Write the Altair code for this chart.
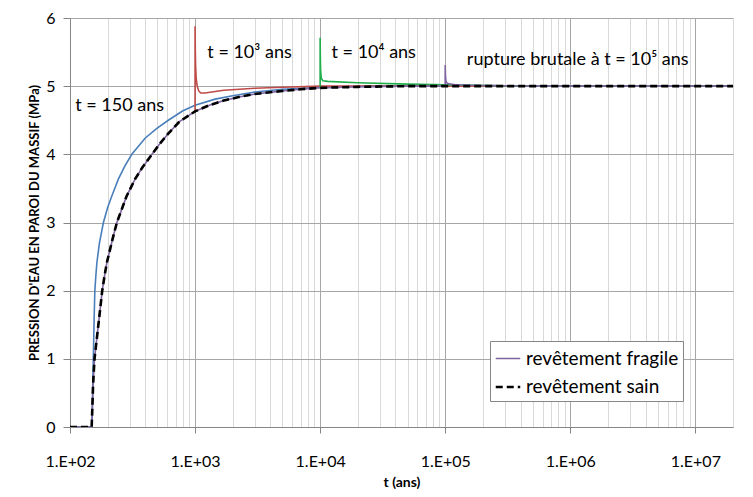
import altair as alt
import pandas as pd

# ---------------- data ----------------
# revêtement sain (black dashed)
sain_t = [100, 149, 151, 153, 157, 162, 167, 174, 181, 189, 197, 210, 222, 237, 260, 284, 310, 332, 380,
          452, 520, 607, 750, 1000, 1300, 1700, 2300, 3000, 5000, 7000, 10000, 20000, 50000, 100000, 1e6, 2e7]
sain_p = [0, 0, 0.3, 0.62, 1.0, 1.22, 1.43, 1.72, 2.0, 2.22, 2.41, 2.62, 2.8, 3.0, 3.2, 3.39, 3.53, 3.64, 3.81,
          4.0, 4.15, 4.3, 4.48, 4.63, 4.72, 4.79, 4.845, 4.885, 4.93, 4.955, 4.975, 4.99, 5.0, 5.0, 5.0, 5.0]

# rupture at t = 150 ans (blue)
blue_t = [100, 150, 152, 154, 156, 158, 161, 164, 172, 185, 200, 216, 244, 275, 312, 400, 495, 611, 800,
          1000, 1445, 2000, 3000, 5000, 10000, 30000, 100000, 2e7]
blue_p = [0, 0, 0.6, 1.1, 1.6, 2.0, 2.22, 2.41, 2.7, 3.0, 3.22, 3.39, 3.64, 3.83, 4.0, 4.24, 4.38, 4.5, 4.64,
          4.72, 4.81, 4.86, 4.915, 4.955, 4.985, 5.0, 5.0, 5.0]

# rupture at t = 10^3 ans (red)
red_t = [1000, 1000, 1004, 1010, 1020, 1040, 1070, 1110, 1200, 1700, 3000, 5000, 10000, 100000, 2e7]
red_p = [4.63, 5.88, 5.55, 5.3, 5.12, 5.0, 4.93, 4.9, 4.9, 4.94, 4.97, 4.985, 5.0, 5.0, 5.0]

# rupture at t = 10^4 ans (green)
green_t = [10000, 10000, 10030, 10080, 10200, 10500, 11500, 20000, 50000, 100000, 300000, 1e6, 2e7]
green_p = [4.975, 5.71, 5.45, 5.25, 5.12, 5.08, 5.07, 5.05, 5.03, 5.02, 5.005, 5.0, 5.0]

# revêtement fragile : rupture brutale at t = 10^5 ans (purple)
frag_t = [t for t in sain_t if t <= 100000] + [100000, 100500, 101500, 104000, 120000, 200000, 500000, 2e7]
frag_p = [p for t, p in zip(sain_t, sain_p) if t <= 100000] + [5.31, 5.15, 5.07, 5.04, 5.02, 5.01, 5.0, 5.0]

legend_names = ["revêtement fragile", "revêtement sain"]

notes_text = ["t = 150 ans", "t = 10³ ans", "t = 10⁴ ans", "rupture brutale à t = 10⁵ ans"]
notes_t = [110, 1253, 12330, 149000]
notes_p = [4.71, 5.48, 5.48, 5.38]

y_ticks = [0, 1, 2, 3, 4, 5, 6]
x_decades = [1e2, 1e3, 1e4, 1e5, 1e6, 1e7]
x_grid = [m * d for d in x_decades for m in range(1, 10) if m * d <= 2e7]

FONT = "Lato"


def frame(ts, ps, name):
    return pd.DataFrame({"t": ts, "p": ps, "serie": name, "i": list(range(len(ts)))})


MAJOR = "abs(log(datum.value)/LN10 - round(log(datum.value)/LN10)) < 0.001"

x_enc = alt.X(
    "t:Q",
    title="t (ans)",
    scale=alt.Scale(type="log", domain=[100, 2e7], nice=False),
    axis=alt.Axis(
        values=x_grid,
        labelExpr="(" + MAJOR + ") ? '1.E+0' + round(log(datum.value)/LN10) : ''",
        gridColor={"condition": {"test": MAJOR, "value": "#A6A6A6"}, "value": "#D9D9D9"},
        tickColor={"condition": {"test": MAJOR, "value": "#868686"}, "value": "transparent"},
        tickSize=6,
        labelOverlap=False,
        labelFlush=False,
        labelBound=False,
        labelPadding=20,
        labelFont=FONT,
        labelFontSize=16,
        labelColor="black",
        titleFont=FONT,
        titleFontSize=14,
        titleFontWeight="bold",
        titleColor="black",
        titlePadding=6,
        domainColor="#868686",
    ),
)

y_enc = alt.Y(
    "p:Q",
    title="PRESSION D'EAU EN PAROI DU MASSIF (MPa)",
    scale=alt.Scale(domain=[0, 6], nice=False),
    axis=alt.Axis(
        values=y_ticks,
        format="d",
        gridColor="#A6A6A6",
        tickColor="#868686",
        tickSize=7,
        labelPadding=8,
        labelFont=FONT,
        labelFontSize=16,
        labelColor="black",
        titleFont=FONT,
        titleFontSize=13,
        titleFontWeight="bold",
        titleColor="black",
        titlePadding=4,
        domainColor="#868686",
    ),
)


def single(df, color, width=1.6):
    return alt.Chart(df).mark_line(color=color, strokeWidth=width, clip=True).encode(
        x=x_enc, y=y_enc, order=alt.Order("i:Q")
    )


blue = single(frame(blue_t, blue_p, "150"), "#4A7EBB")
red = single(frame(red_t, red_p, "1e3"), "#BE4B48")
green = single(frame(green_t, green_p, "1e4"), "#1FAE4B")

leg_df = pd.concat([frame(frag_t, frag_p, legend_names[0]), frame(sain_t, sain_p, legend_names[1])])
leg_props = dict(
    title=None,
    orient="none",
    legendX=420,
    legendY=323,
    direction="vertical",
    fillColor="white",
    strokeColor="#868686",
    padding=4,
    labelFont=FONT,
    labelFontSize=19,
    labelColor="black",
    labelLimit=400,
    labelOffset=4,
    symbolType="stroke",
    symbolSize=600,
    symbolStrokeWidth=2.2,
    rowPadding=4,
)
legend_lines = alt.Chart(leg_df).mark_line(clip=True).encode(
    x=x_enc,
    y=y_enc,
    order=alt.Order("i:Q"),
    color=alt.Color("serie:N", scale=alt.Scale(domain=legend_names, range=["#7E63A0", "#000000"]),
                    legend=alt.Legend(**leg_props)),
    strokeDash=alt.StrokeDash("serie:N", scale=alt.Scale(domain=legend_names, range=[[1, 0], [7, 4]]),
                              legend=alt.Legend(**leg_props)),
    strokeWidth=alt.StrokeWidth("serie:N", scale=alt.Scale(domain=legend_names, range=[1.6, 2.6]),
                                legend=None),
)

notes = alt.Chart(pd.DataFrame({"txt": notes_text, "t": notes_t, "p": notes_p})).mark_text(
    align="left", baseline="middle", font=FONT, fontSize=18, color="black"
).encode(x=x_enc, y=y_enc, text="txt:N")

chart = (
    alt.layer(blue, red, green, legend_lines, notes)
    .resolve_scale(color="independent", strokeDash="independent", strokeWidth="independent")
    .properties(
        width=663,
        height=409,
        padding={"left": 62, "top": 10, "right": 12, "bottom": 70},
        autosize=alt.AutoSizeParams(type="none"),
        background="white",
    )
    .configure_view(stroke=None)
)

chart.save("out.html", embed_options={"renderer": "svg", "actions": False})
